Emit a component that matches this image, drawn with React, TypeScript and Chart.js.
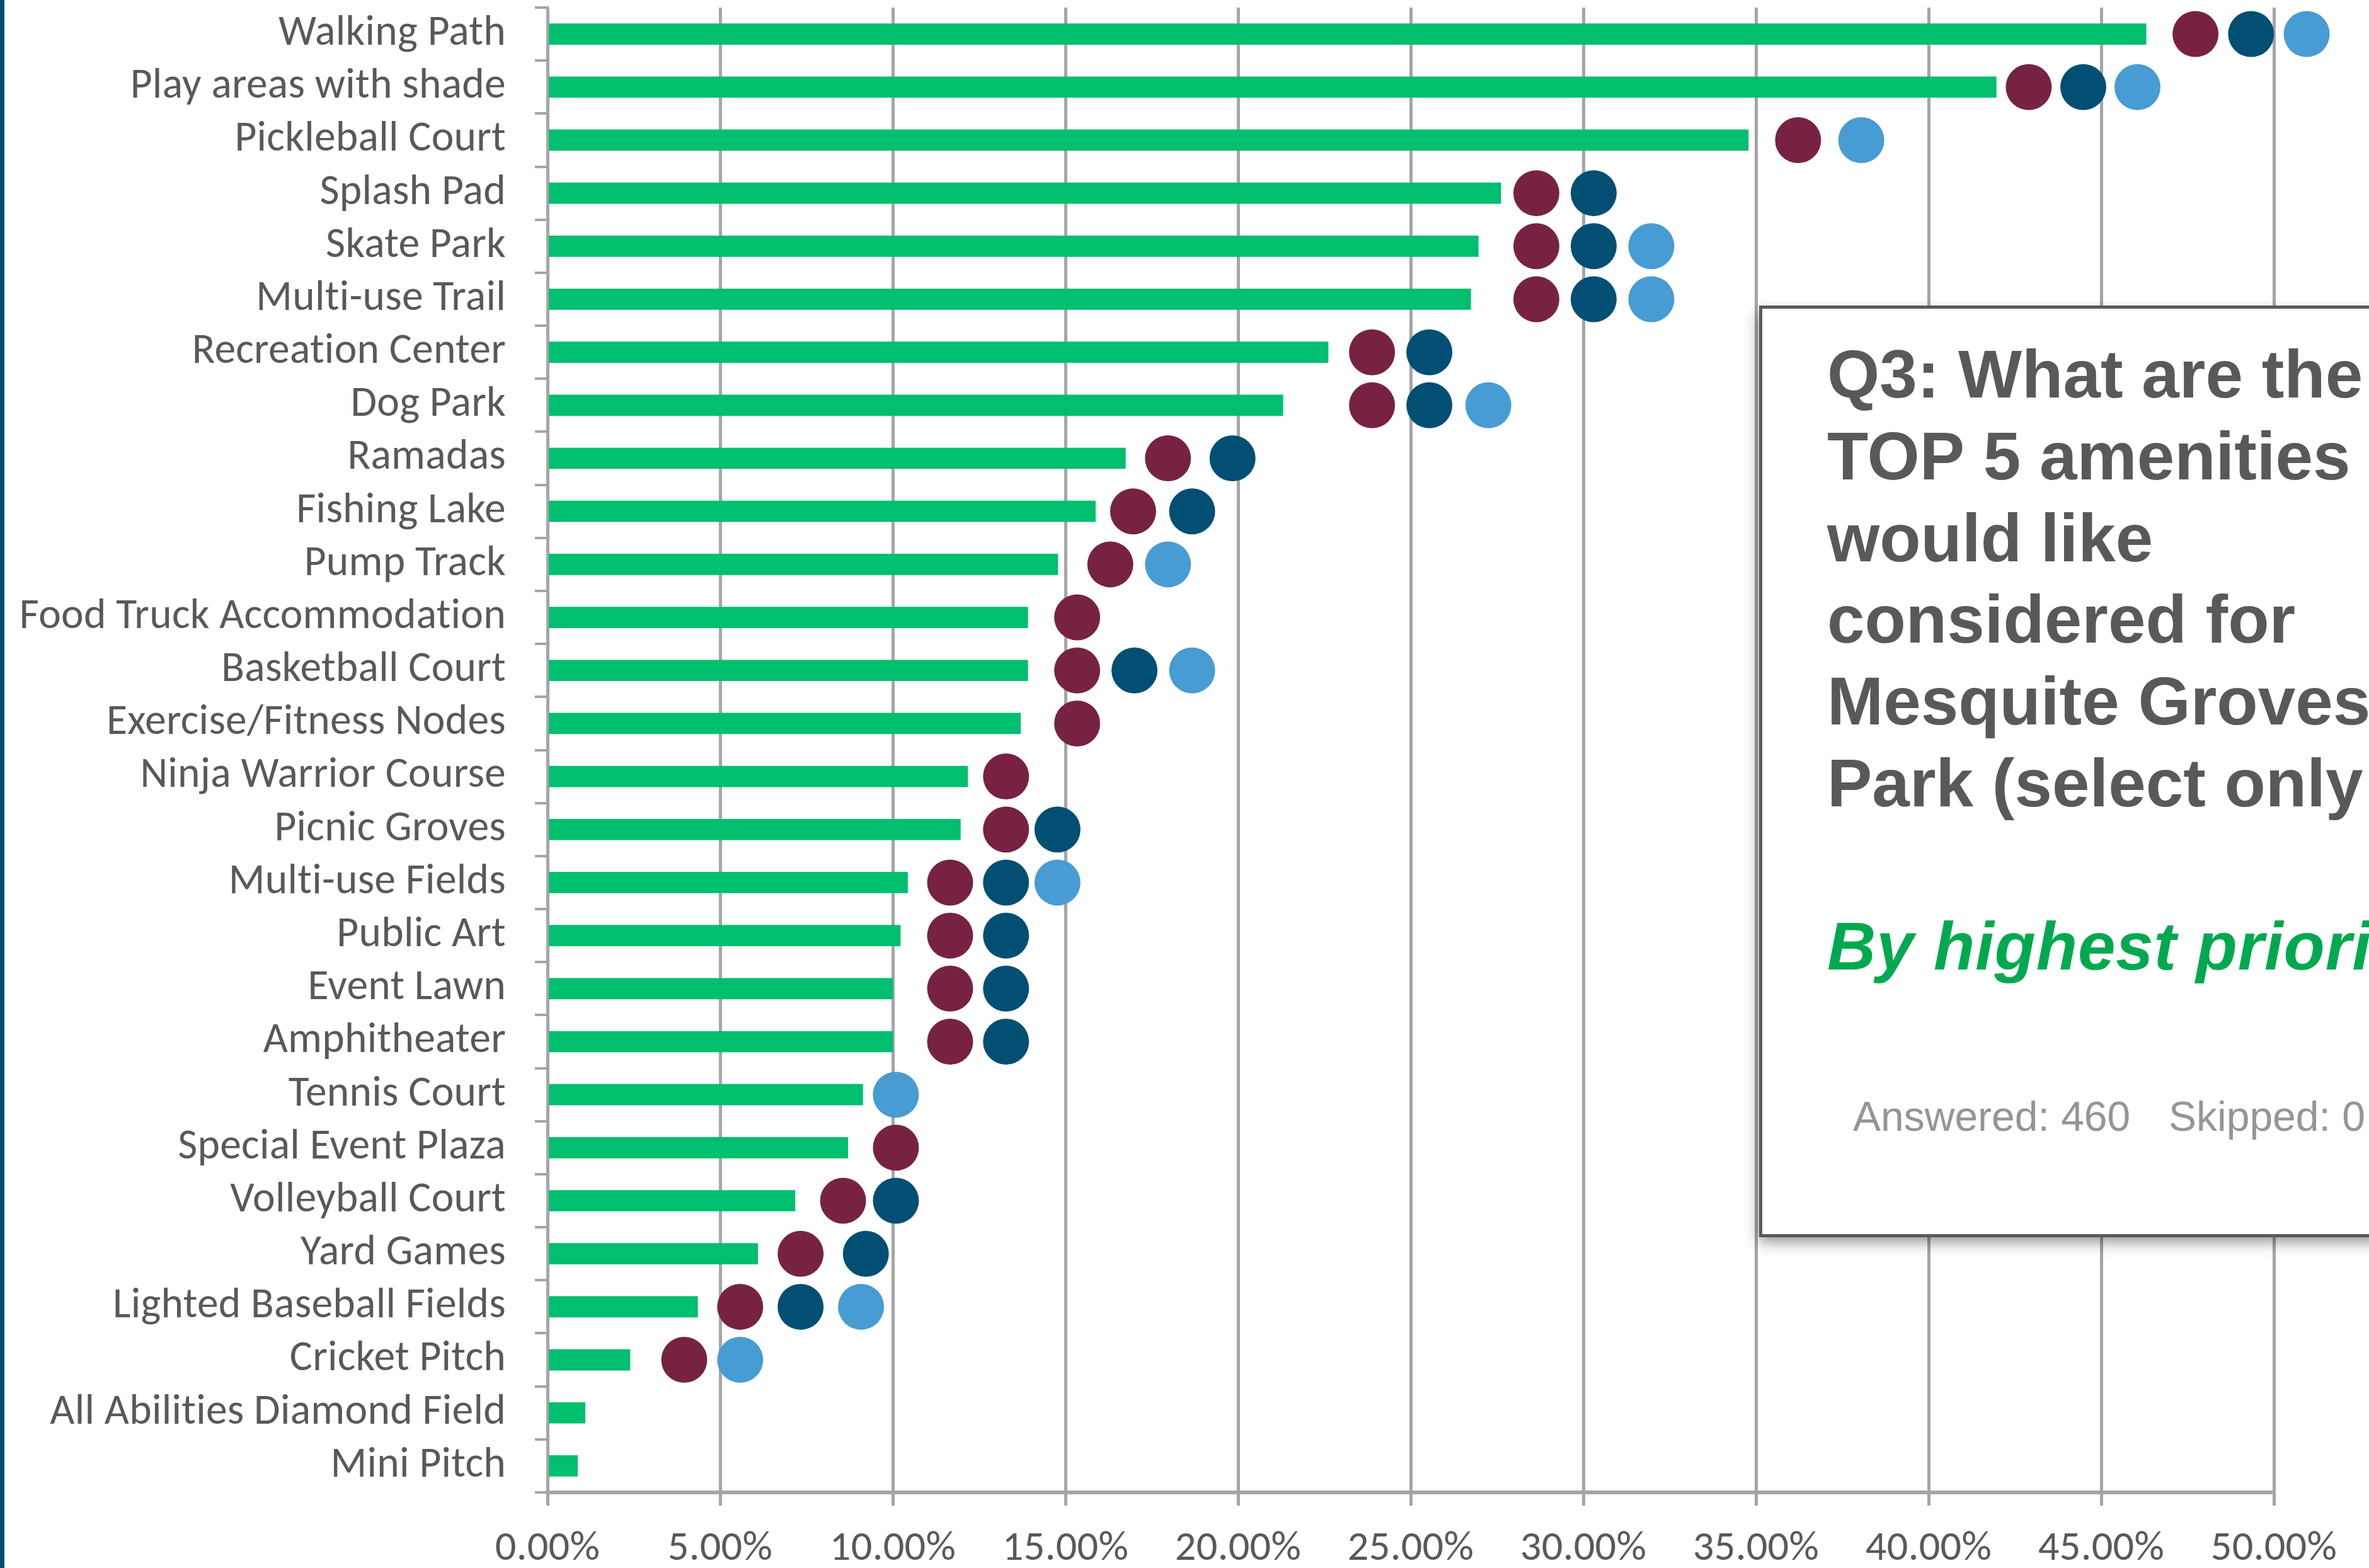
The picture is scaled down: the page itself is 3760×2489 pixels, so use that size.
import React, { useEffect, useRef } from 'react';
import { Chart, registerables } from 'chart.js';

Chart.register(...registerables);

const categories = [
  'Walking Path', 'Play areas with shade', 'Pickleball Court', 'Splash Pad', 'Skate Park',
  'Multi-use Trail', 'Recreation Center', 'Dog Park', 'Ramadas', 'Fishing Lake', 'Pump Track',
  'Food Truck Accommodation', 'Basketball Court', 'Exercise/Fitness Nodes', 'Ninja Warrior Course',
  'Picnic Groves', 'Multi-use Fields', 'Public Art', 'Event Lawn', 'Amphitheater', 'Tennis Court',
  'Special Event Plaza', 'Volleyball Court', 'Yard Games', 'Lighted Baseball Fields', 'Cricket Pitch',
  'All Abilities Diamond Field', 'Mini Pitch',
];

const responseShare = [
  46.3, 41.96, 34.78, 27.61, 26.96, 26.74, 22.61, 21.3, 16.74, 15.87, 14.78, 13.91, 13.91, 13.7,
  12.17, 11.96, 10.43, 10.22, 10.0, 10.0, 9.13, 8.7, 7.17, 6.09, 4.35, 2.39, 1.09, 0.87,
];

const maroonDots = [
  47.73, 42.9, 36.22, 28.64, 28.64, 28.64, 23.88, 23.88, 17.97, 16.96, 16.3, 15.34, 15.34, 15.34,
  13.28, 13.28, 11.66, 11.66, 11.66, 11.66, null, 10.09, 8.56, 7.33, 5.58, 3.96, null, null,
];

const navyDots = [
  49.34, 44.48, null, 30.3, 30.3, 30.3, 25.54, 25.54, 19.84, 18.67, null, null, 17.0, null,
  null, 14.77, 13.28, 13.28, 13.28, 13.28, null, null, 10.09, 9.22, 7.33, null, null, null,
];

const lightBlueDots = [
  50.95, 46.05, 38.05, null, 31.97, 31.97, null, 27.25, null, null, 17.97, null, 18.67, null,
  null, null, 14.77, null, null, null, 10.09, null, null, null, 9.08, 5.58, null, null,
];

const axisMin = 0;
const axisMax = 50;
const axisStep = 5;

const titleLines = ['Q3: What are the', 'TOP 5 amenities', 'would like', 'considered for', 'Mesquite Groves', 'Park (select only'];
const subtitle = 'By highest priority';
const answeredText = 'Answered: 460';
const skippedText = 'Skipped: 0';

const W = 3760;
const H = 2489;

function hasFont(name: string): boolean {
  const c = document.createElement('canvas').getContext('2d');
  if (!c) return false;
  const s = 'abcdefghijklmnopqrstuvwxyzWM0123%';
  c.font = '40px monospace';
  const a = c.measureText(s).width;
  c.font = `40px "${name}", monospace`;
  const b = c.measureText(s).width;
  return Math.abs(a - b) > 0.5;
}

function fitSize(family: string, text: string, target: number): number {
  const c = document.createElement('canvas').getContext('2d') as any;
  if (!c) return 60;
  c.font = `100px ${family}`;
  c.letterSpacing = '0.3px';
  const w = c.measureText(text).width;
  return (100 * target) / w;
}

let savedArea: any = null;

const overlayPlugin = {
  id: 'overlay',
  beforeDraw(chart: any) {
    const ctx = chart.ctx;
    try { ctx.letterSpacing = '0.3px'; } catch (e) { /* ignore */ }
    ctx.save();
    ctx.fillStyle = '#ffffff';
    ctx.fillRect(0, 0, chart.width, chart.height);
    ctx.fillStyle = '#03506F';
    ctx.fillRect(0, 0, 7, chart.height);
    ctx.restore();
  },
  beforeDatasetDraw(chart: any, args: any) {
    if (args.meta.type === 'line') {
      savedArea = chart.chartArea;
      chart.chartArea = { ...savedArea, right: chart.width + 200 };
    }
  },
  afterDatasetDraw(chart: any, args: any) {
    if (args.meta.type === 'line' && savedArea) {
      chart.chartArea = savedArea;
      savedArea = null;
    }
  },
  afterDraw(chart: any) {
    const ctx = chart.ctx;
    ctx.save();
    try { ctx.letterSpacing = '0px'; } catch (e) { /* ignore */ }
    const bx = 2794.5;
    const by = 487.5;
    const bw = 1400;
    const bh = 1474;
    ctx.shadowColor = 'rgba(0,0,0,0.45)';
    ctx.shadowBlur = 22;
    ctx.shadowOffsetX = -3;
    ctx.shadowOffsetY = 9;
    ctx.fillStyle = '#ffffff';
    ctx.fillRect(bx, by, bw, bh);
    ctx.shadowColor = 'transparent';
    ctx.shadowBlur = 0;
    ctx.shadowOffsetX = 0;
    ctx.shadowOffsetY = 0;
    ctx.strokeStyle = '#58595B';
    ctx.lineWidth = 5;
    ctx.strokeRect(bx, by, bw, bh);

    ctx.textAlign = 'left';
    ctx.textBaseline = 'alphabetic';
    ctx.fillStyle = '#58595B';
    ctx.font = 'bold 107px "Liberation Sans", Arial, sans-serif';
    titleLines.forEach((t, i) => {
      ctx.fillText(t, 2900, 631 + i * 129.8);
    });
    ctx.fillStyle = '#00A94F';
    ctx.font = 'italic bold 107px "Liberation Sans", Arial, sans-serif';
    try { ctx.letterSpacing = '0.8px'; } catch (e) { /* ignore */ }
    ctx.fillText(subtitle, 2900, 1539);
    try { ctx.letterSpacing = '0px'; } catch (e) { /* ignore */ }
    ctx.fillStyle = '#939598';
    ctx.font = '66px "Liberation Sans", Arial, sans-serif';
    ctx.fillText(answeredText, 2941, 1795);
    ctx.fillText(skippedText, 3442, 1795);
    ctx.restore();
  },
};

export default function App() {
  const canvasRef = useRef<HTMLCanvasElement | null>(null);

  useEffect(() => {
    document.body.style.margin = '0';
    const canvas = canvasRef.current;
    if (!canvas) return;

    const carlito = hasFont('Carlito');
    const family = carlito ? 'Carlito, "Liberation Sans", sans-serif' : '"Liberation Sans", Arial, sans-serif';
    const labelSize = fitSize(family, 'Food Truck Accommodation', 770);
    const tickSize = fitSize(family, '0.00%', 166);

    const dotDataset = (data: (number | null)[], color: string) => ({
      type: 'line' as const,
      data,
      indexAxis: 'y' as const,
      showLine: false,
      pointRadius: 36.5,
      pointHoverRadius: 36.5,
      pointBorderWidth: 0,
      pointBackgroundColor: color,
      pointBorderColor: color,
      backgroundColor: color,
      borderColor: color,
      clip: false as any,
      order: 1,
    });

    const chart = new Chart(canvas, {
      type: 'bar',
      data: {
        labels: categories,
        datasets: [
          {
            type: 'bar',
            data: responseShare,
            backgroundColor: '#00BF6F',
            barThickness: 33,
            order: 2,
          } as any,
          dotDataset(maroonDots, '#772243'),
          dotDataset(navyDots, '#024F73'),
          dotDataset(lightBlueDots, '#479CD3'),
        ],
      },
      options: {
        indexAxis: 'y',
        responsive: false,
        animation: false,
        devicePixelRatio: 1,
        layout: { autoPadding: false, padding: { top: 12, right: 151, bottom: 0, left: 0 } },
        plugins: {
          legend: { display: false },
          tooltip: { enabled: false },
        },
        events: [],
        scales: {
          x: {
            type: 'linear',
            min: axisMin,
            max: axisMax,
            ticks: {
              stepSize: axisStep,
              color: '#595959',
              font: { family, size: tickSize },
              padding: 30,
              callback: (v: any) => Number(v).toFixed(2) + '%',
            },
            grid: {
              color: '#A5A5A8',
              lineWidth: 5,
              tickLength: 21,
              drawTicks: true,
            },
            border: { display: true, color: '#A5A5A8', width: 6 },
            afterFit: (scale: any) => {
              scale.height = 120;
              scale.paddingLeft = 0;
              scale.paddingRight = 0;
            },
          },
          y: {
            type: 'category',
            offset: true,
            ticks: {
              color: '#595959',
              font: { family, size: labelSize },
              padding: 46,
              autoSkip: false,
            },
            grid: {
              offset: true,
              drawOnChartArea: false,
              drawTicks: true,
              tickLength: 20,
              color: '#A5A5A8',
              lineWidth: 4,
            },
            border: { display: true, color: '#A5A5A8', width: 4 },
            afterFit: (scale: any) => {
              scale.width = 869;
              scale.paddingTop = 0;
              scale.paddingBottom = 0;
            },
          },
        },
      } as any,
      plugins: [overlayPlugin],
    });

    return () => {
      chart.destroy();
    };
  }, []);

  return (
    <div style={{ width: W, height: H, position: 'relative', overflow: 'hidden' }}>
      <canvas ref={canvasRef} width={W} height={H} style={{ width: W, height: H, display: 'block' }} />
    </div>
  );
}
